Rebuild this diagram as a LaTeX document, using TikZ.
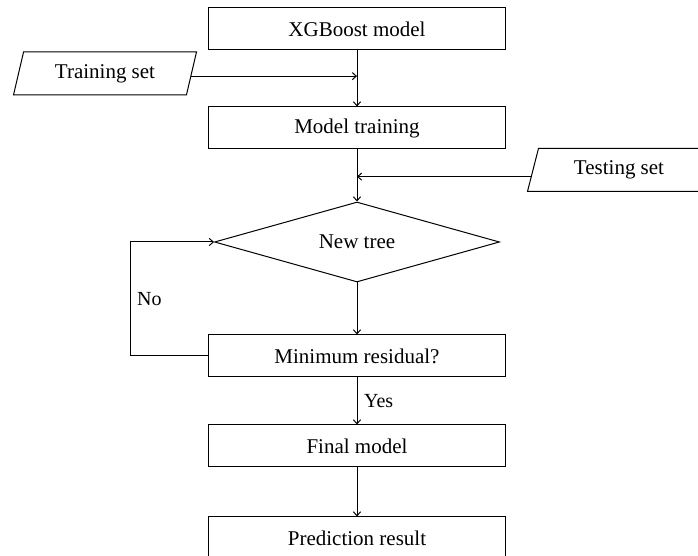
\documentclass[tikz,border=0pt]{standalone}
\usepackage{fontspec}
\setmainfont{Liberation Serif}
\usepackage{tikz}
\usetikzlibrary{arrows.meta,positioning,shapes.geometric,calc}

\begin{document}
\begin{tikzpicture}[
  node distance=26pt,
  >={Straight Barb[length=2pt,width=3.6pt]},
  line width=0.5pt,
  box/.style={rectangle, draw=black, align=center, minimum width=148.5pt, minimum height=21pt, inner sep=1pt, font=\fontsize{10.5}{12}\selectfont},
  decision/.style={diamond, draw=black, align=center, aspect=3.56, minimum width=142.5pt, minimum height=40pt, inner sep=0pt, font=\fontsize{10.5}{12}\selectfont},
  io/.style={trapezium, trapezium left angle=74, trapezium right angle=106, trapezium stretches=true, draw=black, align=center, minimum width=92pt, minimum height=21.5pt, inner sep=1pt, font=\fontsize{10.5}{12}\selectfont}
]
\useasboundingbox (0,0) rectangle (349pt,-278pt);
\node[box] (xgb) at (178.5pt,-14.5pt) {XGBoost model};
\node[io] (train) at (52.5pt,-36.75pt) {Training set};
\node[box, below=28pt of xgb] (training) {Model training};
\node[io] (test) at (309.5pt,-85pt) {Testing set};
\node[decision, below=26pt of training] (tree) {New tree};
\node[box, below=26pt of tree] (minres) {Minimum residual?};
\node[box, below=23.5pt of minres] (final) {Final model};
\node[box, below=24.5pt of final] (pred) {Prediction result};

\coordinate (trainout) at ($(train.top right corner)!0.56!(train.bottom right corner)$);
\coordinate (testout) at ($(test.top left corner)!0.65!(test.bottom left corner)$);

\draw[->] (xgb) -- (training);
\draw[->] (trainout) -- (trainout -| xgb.south);
\draw[->] (training) -- (tree);
\draw[->] (testout) -- (testout -| training.south);
\draw[->] (tree) -- (minres);
\draw[->] (minres.west) -- ++(-39pt,0) |- node[pos=0.25, right]{No} (tree.west);
\draw[->] (minres) -- node[right]{Yes} (final);
\draw[->] (final) -- (pred);
\end{tikzpicture}
\end{document}
